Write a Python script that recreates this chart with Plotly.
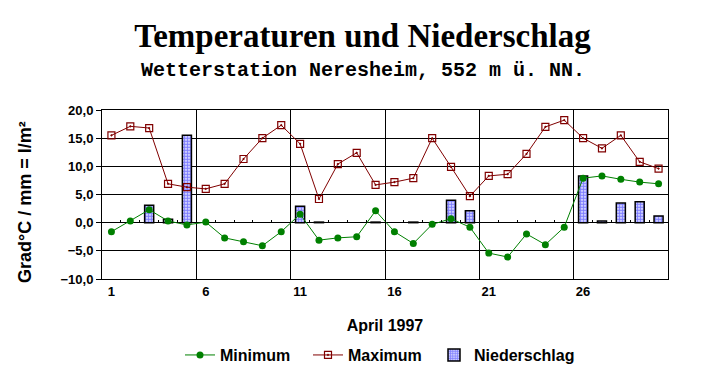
import plotly.graph_objects as go

days = list(range(1, 31))
t_min = [-1.6, 0.3, 2.3, 0.3, -0.4, 0.1, -2.7, -3.4, -4.1, -1.6,
         1.5, -3.1, -2.7, -2.5, 2.1, -1.6, -3.7, -0.3, 0.7, -0.8,
         -5.4, -6.1, -2.0, -3.9, -0.8, 7.9, 8.3, 7.7, 7.2, 6.9]
t_max = [15.5, 17.1, 16.8, 6.9, 6.3, 6.0, 6.9, 11.3, 15.0, 17.3,
         14.0, 4.2, 10.4, 12.4, 6.7, 7.2, 7.9, 15.0, 9.9, 4.7,
         8.3, 8.6, 12.2, 17.0, 18.2, 15.0, 13.2, 15.5, 10.8, 9.6]
precip = [0, 0, 3.1, 0.6, 15.5, 0, 0, 0, 0, 0,
          2.9, 0.1, 0, 0, 0.1, 0, 0.1, 0, 4.0, 2.1,
          0, 0, 0, 0, 0, 8.3, 0.3, 3.5, 3.7, 1.2]
x_ticks = [1, 6, 11, 16, 21, 26]
y_ticks = [-10, -5, 0, 5, 10, 15, 20]

SANS = "Liberation Sans, Arial, sans-serif"
PAGE_CENTER_X = (362.5 - 102) / 566

# days without precipitation get no bar at all (no outline dash on the zero line)
precip_plot = [v if v > 0 else None for v in precip]

fig = go.Figure()
fig.add_trace(go.Bar(
    x=days, y=precip_plot, name="Niederschlag",
    marker=dict(color="white",
                line=dict(color="black", width=1.5),
                pattern=dict(shape=".", fgcolor="#0000ff", bgcolor="white",
                             size=3, solidity=0.7)),
    legendrank=3,
))
fig.add_trace(go.Scatter(
    x=days, y=t_min, name="Minimum", mode="lines+markers",
    line=dict(color="#008000", width=1),
    marker=dict(symbol="circle", size=7, color="#008000"),
    legendrank=1, legendwidth=83,
))
fig.add_trace(go.Scatter(
    x=days, y=t_max, name="Maximum", mode="lines+markers",
    line=dict(color="#800000", width=1),
    marker=dict(symbol="square-open-dot", size=7, color="#800000",
                line=dict(width=1.2)),
    legendrank=2, legendwidth=81,
))
# empty helper trace on the tick-only axis along the zero line
fig.add_trace(go.Scatter(x=[], y=[], xaxis="x2", showlegend=False, hoverinfo="skip"))

fig.update_layout(
    width=725, height=384,
    margin=dict(l=102, r=57, t=110, b=105),
    paper_bgcolor="white", plot_bgcolor="white",
    separators=",.",
    bargap=0.52,
    font=dict(family=SANS, color="black"),
    title=dict(text="<b>Temperaturen und Niederschlag</b>",
               font=dict(family="Liberation Serif, Times New Roman, serif", size=33, color="black"),
               x=0.5, xanchor="center", xref="container",
               y=1 - 35 / 384, yanchor="middle", yref="container"),
    xaxis=dict(range=[0.5, 30.5], tickmode="array", tickvals=x_ticks,
               showgrid=False, zeroline=False, showline=True, mirror=True,
               linecolor="black", linewidth=1, ticks="",
               tickfont=dict(size=13, family=SANS, weight="bold"),
               minor=dict(tickmode="linear", tick0=0.5, dtick=5, showgrid=True,
                          gridcolor="black", gridwidth=1, ticks=""),
               title=dict(text="April 1997", font=dict(size=16, family=SANS, weight="bold"),
                          standoff=22)),
    xaxis2=dict(overlaying="x", anchor="free", position=1/3, range=[0.5, 30.5],
                tickmode="linear", tick0=0.5, dtick=1, ticks="inside", ticklen=3,
                tickcolor="black", showticklabels=False, showgrid=False,
                zeroline=False, showline=False, side="bottom"),
    yaxis=dict(range=[-10, 20], tickmode="array", tickvals=y_ticks, tickformat=".1f",
               showgrid=True, gridcolor="black", gridwidth=1, zeroline=False,
               showline=True, mirror=True, linecolor="black", linewidth=1,
               ticks="outside", ticklen=5, tickcolor="black",
               tickfont=dict(size=13, family=SANS, weight="bold")),
    legend=dict(orientation="h", x=(180 - 102) / 566, xanchor="left", y=-0.45, yanchor="middle",
                font=dict(size=16, family=SANS, weight="bold"), traceorder="normal",
                bgcolor="rgba(0,0,0,0)"),
    annotations=[
        dict(text="<b>Wetterstation Neresheim, 552 m ü. NN.</b>", xref="paper", yref="paper",
             x=PAGE_CENTER_X, y=(279 - 71) / 169, xanchor="center", yanchor="middle",
             showarrow=False,
             font=dict(family="Liberation Mono, Courier New, monospace", size=20, color="black")),
        dict(text="Grad°C / mm = l/m²", xref="paper", yref="paper",
             x=(25 - 102) / 566, y=(279 - 202) / 169, xanchor="center", yanchor="middle",
             textangle=-90, showarrow=False,
             font=dict(size=18, family=SANS, color="black", weight="bold")),
    ],
)

fig.write_html("out.html")
